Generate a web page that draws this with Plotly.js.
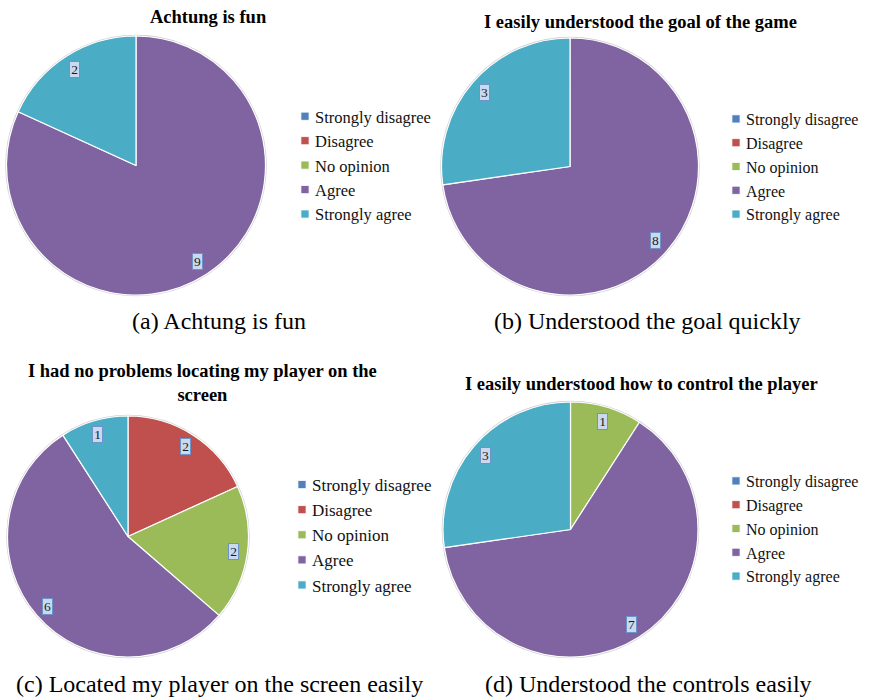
<!DOCTYPE html>
<html>
<head>
<meta charset="utf-8">
<script src="https://cdn.plot.ly/plotly-3.0.1.min.js"></script>
<style>
  html, body { margin: 0; padding: 0; background: #fff; }
  #chart { width: 869px; height: 698px; }
</style>
</head>
<body>
<div id="chart"></div>
<script>
// Survey answers, five-point scale
const categories = ['Strongly disagree', 'Disagree', 'No opinion', 'Agree', 'Strongly agree'];
const valuesFun = [0, 0, 0, 9, 2];
const valuesGoal = [0, 0, 0, 8, 3];
const valuesLocate = [0, 2, 2, 6, 1];
const valuesControls = [0, 0, 1, 7, 3];
const chartTitles = [
  'Achtung is fun',
  'I easily understood the goal of the game',
  'I had no problems locating my player on the<br>screen',
  'I easily understood how to control the player'
];
const captions = [
  '(a) Achtung is fun',
  '(b) Understood the goal quickly',
  '(c) Located my player on the screen easily',
  '(d) Understood the controls easily'
];
const sliceColors = ['#4f81bd', '#c0504d', '#9bbb59', '#8064a2', '#4bacc6'];

const SERIF = 'Liberation Serif, Times New Roman, serif';
const W = 869, H = 698;
const seriesList = [valuesFun, valuesGoal, valuesLocate, valuesControls];

// Panel geometry in pixels
const panels = [
  {cx: 136,   cy: 165.5, r: 129.5, legX: 275, legTop: 99,  legSize: 16.5, titleX: 208, titleY: 17,  capX: 219, capY: 321},
  {cx: 570,   cy: 166.5, r: 128.5, legX: 706, legTop: 102, legSize: 16,   titleX: 640, titleY: 22,  capX: 647, capY: 321},
  {cx: 128,   cy: 536.5, r: 120.5, legX: 272, legTop: 467, legSize: 17,   titleX: 202, titleY: 383, capX: 219, capY: 684},
  {cx: 570.5, cy: 529.5, r: 127.5, legX: 706, legTop: 464, legSize: 16,   titleX: 641, titleY: 384, capX: 648, capY: 684}
];

const px = x => x / W;
const py = y => 1 - y / H;

const traces = [];
const annotations = [];
const shapes = [];
const layout = {
  width: W, height: H,
  margin: {l: 0, r: 0, t: 0, b: 0},
  paper_bgcolor: '#ffffff',
  showlegend: true,
  font: {family: SERIF, color: '#000'},
  annotations: annotations,
  shapes: shapes
};

seriesList.forEach((vals, i) => {
  const p = panels[i];
  const legendId = i === 0 ? 'legend' : 'legend' + (i + 1);
  // each pie keeps its own legend entries (zero-width suffix keeps the keys apart)
  const labels = categories.map(c => c + '\u200b'.repeat(i));
  traces.push({
    type: 'pie',
    name: 'pie' + i,
    labels: labels,
    values: vals,
    sort: false,
    direction: 'clockwise',
    rotation: 0,
    textinfo: 'none',
    hoverinfo: 'label+value',
    marker: {colors: sliceColors, line: {color: '#ffffff', width: 1.2}},
    domain: {x: [px(p.cx - p.r), px(p.cx + p.r)], y: [py(p.cy + p.r), py(p.cy - p.r)]},
    legend: legendId,
    showlegend: true
  });

  layout[legendId] = {
    x: px(p.legX), xanchor: 'left',
    y: py(p.legTop), yanchor: 'top',
    bgcolor: 'rgba(0,0,0,0)',
    font: {family: SERIF, size: p.legSize, color: '#111'},
    itemwidth: 30,
    traceorder: 'normal'
  };

  // faint rim around the pie
  shapes.push({
    type: 'circle', xref: 'paper', yref: 'paper',
    x0: px(p.cx - p.r - 0.5), x1: px(p.cx + p.r + 0.5),
    y0: py(p.cy + p.r + 0.5), y1: py(p.cy - p.r - 0.5),
    line: {color: 'rgba(120,120,120,0.35)', width: 1.5},
    layer: 'below'
  });

  // value labels near the outer end of each slice
  const total = vals.reduce((a, b) => a + b, 0);
  let cum = 0;
  vals.forEach(v => {
    if (v > 0) {
      const mid = (cum + v / 2) / total * 2 * Math.PI;
      const d = 0.885 * p.r;
      annotations.push({
        xref: 'paper', yref: 'paper',
        x: px(p.cx + d * Math.sin(mid)),
        y: py(p.cy - d * Math.cos(mid)),
        xanchor: 'center', yanchor: 'middle',
        text: String(v),
        showarrow: false,
        font: {family: SERIF, size: 13.5, color: '#1a1a1a'},
        bgcolor: '#c9daf0',
        bordercolor: '#6f93c8',
        borderwidth: 1,
        borderpad: 0,
        width: 9, height: 15
      });
    }
    cum += v;
  });

  annotations.push({
    xref: 'paper', yref: 'paper',
    x: px(p.titleX), y: py(p.titleY),
    xanchor: 'center', yanchor: 'middle',
    text: '<b>' + chartTitles[i] + '</b>',
    showarrow: false,
    font: {family: SERIF, size: 18.5, color: '#000'}
  });

  annotations.push({
    xref: 'paper', yref: 'paper',
    x: px(p.capX), y: py(p.capY),
    xanchor: 'center', yanchor: 'middle',
    text: captions[i],
    showarrow: false,
    font: {family: SERIF, size: 24, color: '#000'}
  });
});

Plotly.newPlot('chart', traces, layout, {displayModeBar: false, staticPlot: true}).then(gd => {
  // smaller legend swatches, set close to their text
  gd.querySelectorAll('.legendpie').forEach(el => {
    el.setAttribute('transform', 'translate(30,0) scale(0.68)');
  });
});
</script>
</body>
</html>
